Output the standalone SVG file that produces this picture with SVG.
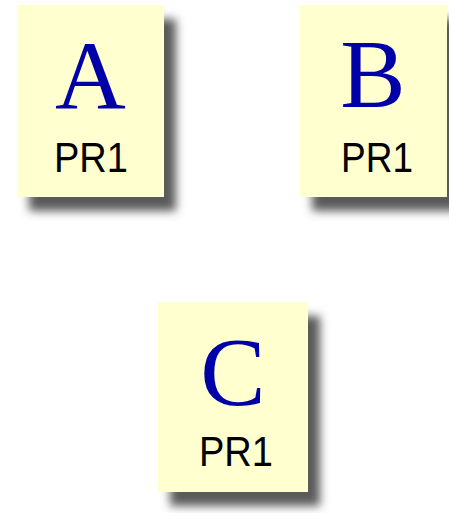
<svg xmlns="http://www.w3.org/2000/svg" width="449" height="513" viewBox="0 0 449 513">
<defs>
<filter id="sh" x="-20%" y="-20%" width="150%" height="150%">
<feGaussianBlur stdDeviation="5"/>
</filter>
</defs>
<style>
.shadow{fill:#5a5a5a;filter:url(#sh)}
.box{fill:#FFFFD0}
.big{font-family:"Liberation Serif","Times New Roman",serif;font-size:98px;fill:#0000A8;text-anchor:middle}
.lbl{font-family:"Liberation Sans",Arial,sans-serif;font-size:42px;fill:#000;text-anchor:middle}
</style>
<rect width="449" height="513" fill="#fff"/>
<g id="A">
<rect class="shadow" x="29" y="19" width="147" height="192"/>
<rect class="box" x="17" y="5" width="147" height="192"/>
<text class="big" x="90.5" y="108">A</text>
<text class="lbl" x="91" y="172" textLength="74" lengthAdjust="spacingAndGlyphs">PR1</text>
</g>
<g id="B">
<rect class="shadow" x="312" y="19" width="147" height="192"/>
<rect class="box" x="300" y="5" width="147" height="192"/>
<text class="big" x="373" y="107">B</text>
<text class="lbl" x="377" y="172" textLength="72" lengthAdjust="spacingAndGlyphs">PR1</text>
</g>
<g id="C">
<rect class="shadow" x="170" y="316" width="150" height="190"/>
<rect class="box" x="158" y="302" width="150" height="190"/>
<text class="big" x="233" y="405">C</text>
<text class="lbl" x="236" y="466" textLength="74" lengthAdjust="spacingAndGlyphs">PR1</text>
</g>
<g id="connectors"/>
</svg>
